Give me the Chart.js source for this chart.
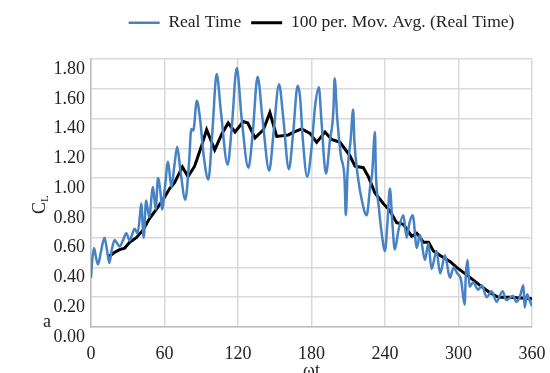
<!DOCTYPE html>
<html>
<head>
<meta charset="utf-8">
<script src="https://cdn.jsdelivr.net/npm/chart.js@4.4.0/dist/chart.umd.min.js"></script>
<style>
  html, body { margin: 0; padding: 0; background: #fff; }
  #wrap { width: 550px; height: 373px; }
</style>
</head>
<body>
<div id="wrap"><canvas id="chart" width="550" height="373"></canvas></div>
<script>
// real time lift coefficient (angle in deg, CL)
let rtAngle = [0, 1, 2.5, 4, 5.7, 8, 11, 13, 15, 17, 19.3, 21.5, 23.4, 26, 28.8, 31.6, 33.5, 35.6, 38, 40,
  41, 43, 45, 47.5, 50.6, 52.8, 54.7, 57, 58, 60.5, 62.9, 65.6, 68, 70.4, 73, 77, 80, 81.9, 83.5, 86.4,
  89, 92, 95.8, 99, 102.6, 106, 111.5, 115, 119, 123, 128.5, 132, 136, 140, 145.5, 149, 153.5, 157, 161.5, 165,
  168.7, 170.6, 173, 176.5, 180, 182.9, 186, 188, 191.8, 195, 197.8, 198.9, 201, 204, 207, 208, 209.5, 212, 214, 215,
  218, 221, 225, 228, 229.5, 231.8, 232.5, 235, 237.3, 240, 242, 244, 246, 248, 251, 255, 257.7, 260, 262.6, 266,
  268.5, 272.6, 275.4, 278, 282, 285, 289, 293, 296, 299, 302, 305, 306, 307.5, 309, 312, 316, 319, 323, 327,
  331, 336, 339, 344.5, 347, 350, 353, 354, 356, 358, 360];
let rtCL = [0.33, 0.45, 0.53, 0.47, 0.42, 0.50, 0.60, 0.52, 0.43, 0.52, 0.585, 0.56, 0.54, 0.58, 0.63, 0.58, 0.62, 0.66, 0.63, 0.75,
  0.83, 0.60, 0.85, 0.74, 0.94, 0.79, 1.00, 0.88, 0.79, 0.95, 1.11, 0.94, 1.08, 1.21, 1.05, 0.855, 1.10, 1.33, 1.32, 1.52,
  1.40, 1.15, 0.99, 1.30, 1.70, 1.45, 1.09, 1.35, 1.74, 1.40, 1.07, 1.30, 1.68, 1.40, 1.05, 1.30, 1.63, 1.40, 1.06, 1.30,
  1.62, 1.55, 1.25, 1.01, 1.20, 1.48, 1.61, 1.40, 1.03, 1.25, 1.44, 1.67, 1.40, 1.15, 0.99, 0.75, 1.05, 1.26, 1.46, 1.25,
  1.00, 0.855, 0.75, 0.95, 1.03, 1.31, 1.05, 0.80, 0.63, 0.51, 0.70, 0.93, 0.70, 0.52, 0.65, 0.75, 0.60, 0.70, 0.75, 0.53,
  0.62, 0.45, 0.56, 0.39, 0.51, 0.36, 0.48, 0.33, 0.40, 0.36, 0.32, 0.15, 0.35, 0.45, 0.27, 0.30, 0.25, 0.28, 0.20, 0.24,
  0.17, 0.24, 0.18, 0.21, 0.17, 0.20, 0.28, 0.13, 0.22, 0.18, 0.14];

// 100 per. moving average
let avgAngle = [13.3, 16, 19, 23.4, 27.5, 31.6, 37, 42.4, 47.9, 53.3, 58.8, 64.2, 68.2, 74.6, 79.2, 84.6, 90, 94.4, 101, 107,
  112, 117.6, 124.3, 128, 133.9, 140.7, 146, 151.6, 161, 166, 172, 178.8, 184.2, 191, 196.5, 203.3, 211.4, 215.5, 222.3, 226.4,
  231.8, 238.6, 244, 249.5, 255, 261.8, 266, 271.3, 275.5, 279.5, 285, 293, 298.5, 306.7, 317.6, 325.7, 332.5, 342, 360];
let avgCL = [0.48, 0.48, 0.50, 0.52, 0.53, 0.57, 0.60, 0.65, 0.73, 0.79, 0.855, 0.93, 0.97, 1.075, 1.01, 1.08, 1.21, 1.325, 1.19, 1.30,
  1.37, 1.31, 1.38, 1.37, 1.27, 1.325, 1.44, 1.28, 1.29, 1.31, 1.33, 1.30, 1.24, 1.31, 1.26, 1.24, 1.15, 1.08, 1.07, 1.01,
  0.90, 0.83, 0.78, 0.70, 0.69, 0.61, 0.63, 0.57, 0.57, 0.51, 0.48, 0.44, 0.40, 0.35, 0.28, 0.23, 0.20, 0.20, 0.19];

let seriesNames = ["Real Time", "100 per. Mov. Avg. (Real Time)"];
let xLabel = "ωt";
let yLabel = "C";
let ySub = "L";
let panelLabel = "a";

const serif = "'Liberation Serif', 'Times New Roman', serif";

function pairs(xs, ys) {
  return xs.map((x, i) => ({ x: x, y: ys[i] }));
}

// extra text Excel put round the plot: axis titles and the panel letter
const extraText = {
  id: 'extraText',
  afterDraw(chart) {
    const ctx = chart.ctx;
    const area = chart.chartArea;
    ctx.save();
    ctx.fillStyle = '#222';
    ctx.textBaseline = 'middle';
    ctx.textAlign = 'left';
    // y title with subscript
    ctx.translate(40, 214);
    ctx.rotate(-Math.PI / 2);
    ctx.font = "18px " + serif;
    ctx.fillText(yLabel, 0, 0);
    let w = ctx.measureText(yLabel).width;
    ctx.font = "11px " + serif;
    ctx.fillText(ySub, w, 5);
    ctx.restore();

    ctx.save();
    ctx.fillStyle = '#222';
    ctx.font = "18px " + serif;
    ctx.textAlign = 'center';
    ctx.textBaseline = 'middle';
    ctx.fillText(panelLabel, 47, 322);
    ctx.textBaseline = 'top';
    ctx.fillText(xLabel, (area.left + area.right) / 2, 362);
    ctx.restore();
  }
};

// legend sits higher than the plot and a bit right of centre
const legendGap = {
  id: 'legendGap',
  beforeInit(chart) {
    const fit = chart.legend.fit;
    chart.legend.fit = function () {
      fit.bind(chart.legend)();
      this.height = 55;
    };
  },
  afterLayout(chart) {
    chart.legend.left += 10;
    chart.legend.right += 10;
  }
};

new Chart(document.getElementById('chart'), {
  type: 'line',
  data: {
    datasets: [{
      label: seriesNames[0],
      data: pairs(rtAngle, rtCL),
      borderColor: '#4682c4',
      backgroundColor: '#4682c4',
      borderWidth: 2.5,
      pointRadius: 0,
      cubicInterpolationMode: 'monotone'
    }, {
      label: seriesNames[1],
      data: pairs(avgAngle, avgCL),
      borderColor: '#000',
      backgroundColor: '#000',
      borderWidth: 3,
      pointRadius: 0,
      tension: 0
    }]
  },
  options: {
    responsive: false,
    animation: false,
    layout: { padding: { top: 4, right: 18, left: 0, bottom: 0 } },
    plugins: {
      legend: {
        position: 'top',
        fullSize: false,
        labels: {
          usePointStyle: true,
          pointStyle: 'line',
          pointStyleWidth: 31,
          boxWidth: 31,
          padding: 10,
          color: '#222',
          font: { family: serif, size: 17.5 }
        }
      },
      tooltip: { enabled: false }
    },
    scales: {
      x: {
        type: 'linear',
        min: 0,
        max: 360,
        grid: { color: '#d9d9d9', lineWidth: 1.5, drawTicks: false },
        border: { color: '#bfbfbf', width: 1.5 },
        ticks: {
          stepSize: 60,
          padding: 16,
          maxRotation: 0,
          color: '#222',
          font: { family: serif, size: 18 }
        },
        afterFit(s) {
          s.height = 46;
          s.paddingLeft = 0;
          s.paddingRight = 0;
        }
      },
      y: {
        min: 0,
        max: 1.8,
        grid: { color: '#d9d9d9', lineWidth: 1.5, drawTicks: false },
        border: { color: '#bfbfbf', width: 1.5 },
        ticks: {
          stepSize: 0.2,
          padding: 6,
          labelOffset: 10,
          color: '#222',
          font: { family: serif, size: 18 },
          callback: v => v.toFixed(2)
        },
        afterFit(s) { s.width = 91; }
      }
    }
  },
  plugins: [legendGap, extraText]
});
</script>
</body>
</html>
